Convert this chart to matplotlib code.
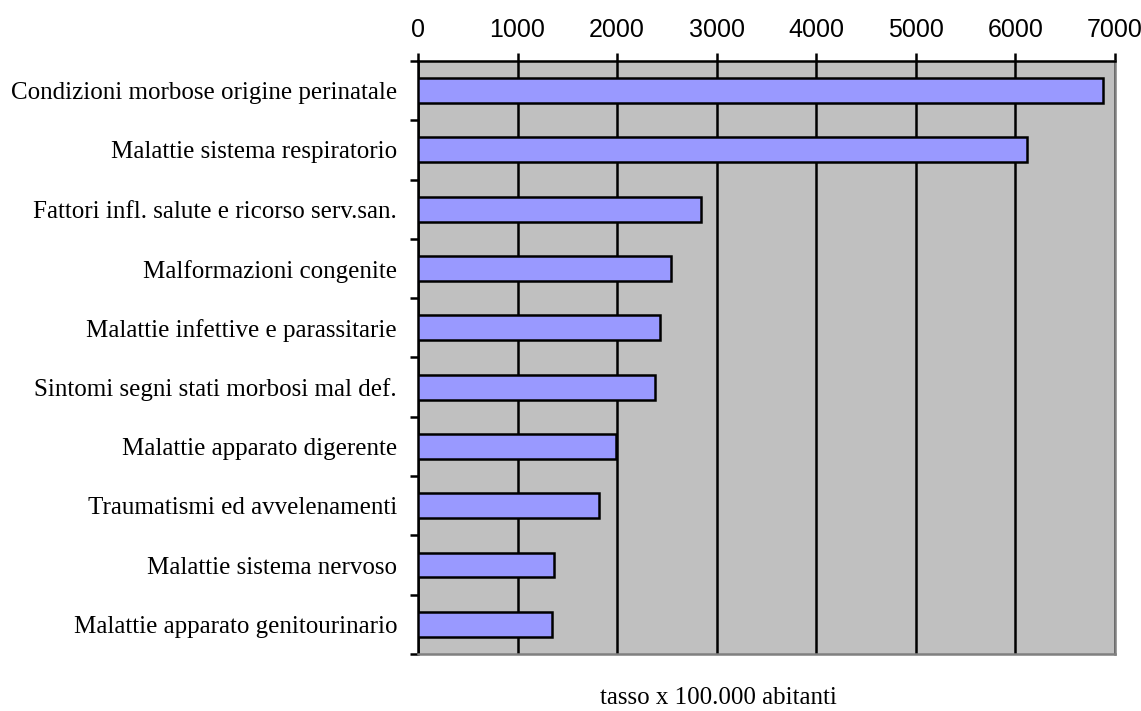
"""
Tassi di ricovero per causa (barre orizzontali, stile Excel)
"""

import matplotlib
matplotlib.use("Agg")
import matplotlib.pyplot as plt
import numpy as np

categories = [
    "Condizioni morbose origine perinatale",
    "Malattie sistema respiratorio",
    "Fattori infl. salute e ricorso serv.san.",
    "Malformazioni congenite",
    "Malattie infettive e parassitarie",
    "Sintomi segni stati morbosi mal def.",
    "Malattie apparato digerente",
    "Traumatismi ed avvelenamenti",
    "Malattie sistema nervoso",
    "Malattie apparato genitourinario",
]
rates = [6875, 6120, 2845, 2540, 2435, 2380, 1990, 1820, 1370, 1345]
xticks = [0, 1000, 2000, 3000, 4000, 5000, 6000, 7000]


def main():
    fig = plt.figure(figsize=(11.41, 7.11), dpi=100)
    ax = fig.add_axes([0.3663, 0.0802, 0.6109, 0.834])

    y = np.arange(len(categories))
    ax.barh(y, rates, height=0.42, color="#9999FF", edgecolor="black", lw=1.8, zorder=3)

    ax.set_facecolor("#C0C0C0")
    ax.set_xlim(0, 7000)
    ax.set_ylim(len(categories) - 0.5, -0.5)

    ax.xaxis.tick_top()
    ax.set_xticks(xticks)
    ax.set_xticklabels([str(t) for t in xticks], fontfamily="Liberation Sans", fontsize=18)
    ax.tick_params(axis="x", direction="out", length=6, width=1.8, pad=8, color="black")
    ax.grid(True, axis="x", color="black", lw=1.8)
    ax.set_axisbelow(True)

    ax.set_yticks(y)
    ax.set_yticklabels(categories, fontfamily="Liberation Serif", fontsize=18)
    ax.tick_params(axis="y", which="major", length=0, pad=15)
    ax.set_yticks(np.arange(len(categories) + 1) - 0.5, minor=True)
    ax.tick_params(axis="y", which="minor", direction="out", length=6, width=1.8, color="black")

    ax.spines["left"].set_color("black")
    ax.spines["left"].set_linewidth(1.8)
    ax.spines["top"].set_color("black")
    ax.spines["top"].set_linewidth(1.8)
    ax.spines["right"].set_color("#808080")
    ax.spines["right"].set_linewidth(1.8)
    ax.spines["bottom"].set_color("#808080")
    ax.spines["bottom"].set_linewidth(1.8)

    fig.text(718 / 1141, 1 - 698 / 711, "tasso x 100.000 abitanti",
             ha="center", va="center", fontfamily="Liberation Serif", fontsize=18)

    fig.savefig("out.png", dpi=100)


if __name__ == "__main__":
    main()
